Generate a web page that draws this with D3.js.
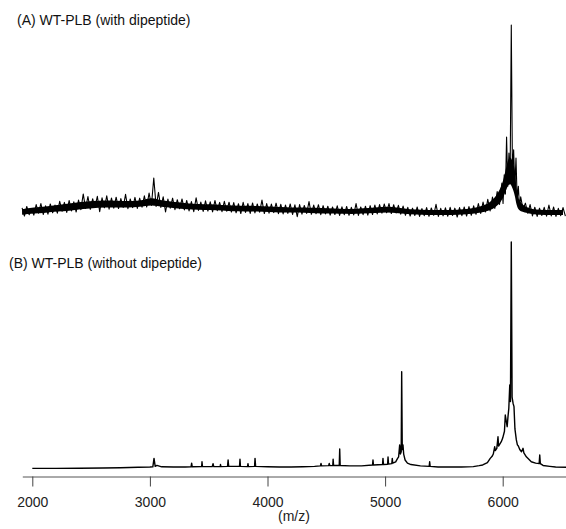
<!DOCTYPE html>
<html><head><meta charset="utf-8">
<script src="https://cdn.jsdelivr.net/npm/d3@7"></script>
<style>
body{margin:0;background:#fff}
svg{display:block}
text{font-family:Arial,"Liberation Sans",Helvetica,sans-serif}
</style>
</head><body>
<svg id="c" width="566" height="529"></svg>
<script>
// ---- DATA ----
const titleA = "(A) WT-PLB (with dipeptide)";
const titleB = "(B) WT-PLB (without dipeptide)";
const xLabel = "(m/z)";
const tickValues = [2000, 3000, 4000, 5000, 6000];
const axisRange = [1915, 6538];

// Spectrum A trace: intensity (% of max) sampled every 20 m/z starting at 1913
const aStart = 1913, aStep = 20;
const aIntensity = [
  4.8, 0.5, 5.5, 1.2, 4.2, 1.0, 6.5, 2.0, 7.0, 1.3,
  5.8, 1.5, 6.8, 2.2, 6.2, 2.0, 8.2, 3.0, 7.6, 2.4,
  8.6, 3.2, 7.9, 2.6, 8.8, 3.8, 12.0, 4.5, 10.6, 4.0,
  9.5, 5.0, 10.8, 2.8, 10.0, 4.8, 11.0, 4.1, 9.9, 4.6,
  10.3, 4.4, 9.6, 5.0, 11.8, 4.3, 9.4, 4.9, 10.2, 4.5,
  9.8, 5.1, 11.0, 5.2, 12.5, 6.0, 20.3, 5.5, 12.8, 5.0,
  10.5, 2.6, 9.3, 4.6, 9.8, 3.8, 9.0, 4.3, 9.4, 3.7,
  8.6, 3.2, 8.0, 2.8, 10.0, 3.4, 7.8, 2.9, 8.4, 3.1,
  7.9, 2.7, 8.6, 3.3, 7.6, 2.8, 8.2, 3.0, 7.7, 2.6,
  7.5, 2.2, 6.9, 1.8, 7.6, 2.4, 7.0, 1.9, 7.3, 2.1,
  6.8, 2.5, 8.8, 1.8, 7.0, 2.0, 6.7, 2.3, 7.2, 1.7,
  6.6, 1.6, 6.2, 1.9, 6.8, 1.3, 6.3, 0.2, 6.5, 1.5,
  6.0, 1.9, 8.0, 1.4, 6.2, 1.7, 6.4, 1.2, 5.9, 1.6,
  5.6, 1.0, 5.2, 1.3, 5.8, 0.8, 5.3, 1.2, 5.5, 0.9,
  5.0, 1.1, 7.0, 0.8, 5.2, 1.2, 5.6, 1.0, 5.9, 1.3,
  6.2, 1.6, 6.5, 2.0, 6.8, 2.2, 7.0, 1.8, 6.4, 2.1,
  6.1, 1.5, 5.7, 0.9, 5.0, 0.5, 4.6, 0.8, 5.2, 0.3,
  4.4, 0.7, 4.9, 0.4, 4.7, 0.9, 6.6, 0.3, 4.5, 0.6,
  4.8, 0.4, 5.0, 0.8, 4.6, 0.0, 4.9, 0.7, 5.2, 0.5,
  5.4, 0.9, 5.8, 1.4, 7.0, 1.9, 7.8, 2.6, 9.2, 3.2,
  10.4, 4.5, 13.2, 6.5, 17.7, 22, 41.7, 33.3, 100, 35,
  30.7, 16, 10.5, 4.0, 7.2, 2.0, 6.5, 0.6, 5.1, 0.3,
  4.6, 0.8, 5.0, 0.4, 6.2, 0.6, 5.2, 0.3, 4.5, 0.7,
  4.9, 0.5
];
// extra samples read around the main peak of A: [m/z, intensity]
const aExtra = [[6003,7],[6023,12],[6043,16],[6063,20],[6083,22],[6103,15],[6123,9],[6143,5]];
// dense core of the A noise band: m/z, upper edge, lower edge
const aCoreMz = [1913, 2013, 2113, 2213, 2313, 2413, 2513, 2613, 2713, 2813, 2913, 3013, 3113, 3213,
  3313, 3413, 3513, 3613, 3713, 3813, 3913, 4013, 4113, 4213, 4313, 4413, 4513, 4613, 4713, 4813,
  4913, 5013, 5113, 5213, 5313, 5413, 5513, 5613, 5713, 5813, 5863, 5913, 5953, 5983, 6003, 6023,
  6043, 6063, 6083, 6103, 6118, 6133, 6163, 6213, 6313, 6413, 6513];
const aCoreHi = [4.0, 5.0, 5.5, 6.3, 7.0, 7.8, 8.3, 8.6, 8.5, 8.3, 8.6, 9.8, 8.6, 7.8,
  7.2, 6.8, 6.6, 6.3, 6.0, 5.8, 5.7, 5.5, 5.2, 5.0, 5.0, 4.8, 4.5, 4.3, 4.2, 4.5,
  5.0, 5.3, 4.8, 4.0, 3.8, 3.6, 3.6, 3.8, 4.3, 5.6, 6.8, 9.0, 12.0, 15.5, 19.0, 24.0,
  29.0, 31.0, 29.0, 24.0, 15.0, 10.0, 7.0, 5.0, 3.8, 3.6, 3.6];
const aCoreLo = [1.2, 1.8, 2.2, 2.8, 3.3, 4.0, 4.6, 5.0, 5.0, 5.0, 5.3, 6.0, 5.2, 4.6,
  4.0, 3.8, 3.6, 3.4, 3.0, 2.9, 2.8, 2.6, 2.4, 2.3, 2.2, 2.0, 1.8, 1.7, 1.6, 1.8,
  2.1, 2.4, 2.0, 1.4, 1.2, 1.1, 1.1, 1.2, 1.6, 2.4, 3.0, 4.2, 6.0, 8.0, 10.0, 13.0,
  16.0, 17.0, 15.0, 11.0, 6.5, 4.2, 2.8, 2.0, 1.2, 1.0, 1.0];

// Spectrum B: [m/z, intensity (% of max)]
const bSpectrum = [
  [2000,0.7],[2200,0.7],[2400,0.8],[2600,0.9],[2750,1.0],[2900,1.2],[3000,1.3],[3025,1.4],[3035,5.1],[3045,1.6],
  [3060,2.0],[3100,1.4],[3200,1.3],[3300,1.3],[3350,1.4],[3355,3.0],[3360,1.4],[3440,1.5],[3443,3.6],[3447,1.5],
  [3530,1.5],[3537,2.8],[3543,1.5],[3598,1.5],[3600,2.4],[3604,1.5],[3660,1.6],[3665,4.4],[3670,1.6],[3762,1.6],
  [3766,4.7],[3770,1.6],[3830,1.5],[3834,2.8],[3838,1.5],[3890,1.6],[3894,5.1],[3899,1.6],[4000,1.4],[4100,1.3],
  [4200,1.3],[4300,1.4],[4400,1.6],[4450,1.8],[4455,2.9],[4460,1.8],[4520,1.9],[4525,2.9],[4530,1.9],[4555,2.0],
  [4558,4.7],[4562,2.0],[4610,2.0],[4614,9.2],[4618,2.0],[4700,1.8],[4800,1.8],[4893,2.2],[4897,4.4],[4901,2.2],
  [4978,2.4],[4982,5.1],[4986,2.4],[5021,2.5],[5025,5.7],[5029,2.6],[5057,2.8],[5061,5.1],[5065,3.0],[5090,3.6],
  [5105,5.0],[5115,5.8],[5124,11],[5130,7],[5137,8],[5141,43.1],[5146,9],[5152,11],[5158,7],[5170,4.4],
  [5190,3.0],[5220,2.4],[5300,1.8],[5375,1.6],[5379,3.6],[5383,1.6],[5450,1.3],[5550,1.3],[5650,1.3],[5750,1.5],
  [5800,1.9],[5830,2.2],[5870,3.2],[5894,5.1],[5910,6.0],[5920,7.0],[5932,10.2],[5937,8.5],[5950,9.5],[5960,14.6],
  [5965,10.5],[5988,12.4],[6000,14],[6015,17],[6022,24.1],[6031,21.2],[6038,19],[6045,23.4],[6052,27],[6060,37.3],
  [6066,30],[6073,100],[6080,32],[6088,29.3],[6096,27.8],[6104,18],[6116,13.2],[6125,11],[6133,10.5],[6145,9],
  [6160,8],[6173,9.5],[6180,7.5],[6201,5.8],[6220,4.8],[6243,3.6],[6280,3.0],[6310,2.8],[6315,6.6],[6320,2.8],
  [6343,2.0],[6400,1.6],[6450,1.3],[6540,1.2]
];

// ---- DRAW ----
const svg = d3.select("#c");
const x = d3.scaleLinear().domain([2000, 6000]).range([32.3, 502.7]);
const yA = d3.scaleLinear().domain([0, 100]).range([217, 25]);
const yB = d3.scaleLinear().domain([0, 100]).range([470, 242]);

const aCore = aCoreMz.map((mz, i) => ({mz, hi: aCoreHi[i], lo: aCoreLo[i]}));
svg.append("path").datum(aCore)
  .attr("d", d3.area().curve(d3.curveMonotoneX).x(d => x(d.mz)).y0(d => yA(d.lo)).y1(d => yA(d.hi)))
  .attr("fill", "#000");

const aPoints = aIntensity.map((v, i) => [aStart + i * aStep, v])
  .concat(aExtra).sort((p, q) => p[0] - q[0]);

const mkLine = ys => d3.line().x(d => x(d[0])).y(d => ys(d[1]));

svg.append("path").datum(aPoints)
  .attr("d", mkLine(yA))
  .attr("fill", "none").attr("stroke", "#000")
  .attr("stroke-width", 1.1).attr("stroke-linejoin", "round");

svg.append("path").datum(bSpectrum)
  .attr("d", mkLine(yB))
  .attr("fill", "none").attr("stroke", "#000")
  .attr("stroke-width", 1.4).attr("stroke-linejoin", "round");

// axis
const xAxisScale = x.copy().domain(axisRange).range(axisRange.map(x));
const axis = d3.axisBottom(xAxisScale).tickValues(tickValues).tickSize(10).tickSizeOuter(0).tickFormat(d3.format("d"));
const g = svg.append("g").attr("transform", "translate(0,476.5)").call(axis);
g.select(".domain").attr("stroke", "#555");
g.selectAll(".tick line").attr("stroke", "#444");
g.selectAll(".tick text").attr("y", 30).attr("dy", 0)
  .attr("font-size", 14).attr("fill", "#222")
  .style("font-family", "Arial, 'Liberation Sans', sans-serif");

svg.append("text").attr("x", 294).attr("y", 521).attr("text-anchor", "middle")
  .attr("font-size", 14).attr("fill", "#222").text(xLabel);

svg.append("text").attr("x", 17).attr("y", 25)
  .attr("font-size", 14).attr("fill", "#111").text(titleA);
svg.append("text").attr("x", 9).attr("y", 268)
  .attr("font-size", 14).attr("fill", "#111").text(titleB);
</script>
</body></html>
